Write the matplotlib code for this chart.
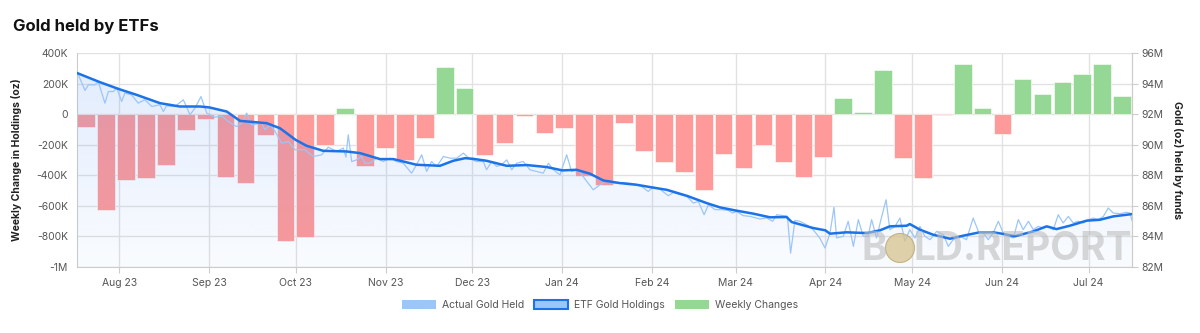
import numpy as np
import pandas as pd
import matplotlib
matplotlib.use('Agg')
import matplotlib.pyplot as plt
import matplotlib.dates as mdates
from matplotlib.patches import Patch, Ellipse
from matplotlib.ticker import FuncFormatter, MultipleLocator

plt.rcParams['font.family'] = ['Inter', 'DejaVu Sans']

# day 0 of the time axis
START = pd.Timestamp('2023-07-17')

# weekly change in holdings, thousands of oz (one bar per week)
weekly_change_k = [
    -85, -625, -434, -418, -333, -107, -33, -412, -449, -137,
    -830, -802, -200, 37, -338, -222, -303, -157, 307, 172,
    -266, -190, -15, -124, -92, -407, -462, -59, -244, -312,
    -377, -495, -259, -353, -200, -314, -412, -281, 107, 17,
    288, -288, -420, -5, 329, 39, -128, 233, 133, 209,
    264, 329, 120,
]
first_week = '2023-07-20 12:00'
last_week = '2024-07-12 14:00'

# ETF gold holdings (smoothed), (day, million oz)
etf_holdings = [
    (0.5, 94.68), (8.3, 94.09), (15.0, 93.63), (21.0, 93.26), (29.0, 92.72),
    (35.9, 92.50), (42.9, 92.50), (46.1, 92.44), (52.1, 92.17), (56.7, 91.56),
    (65.9, 91.41), (70.5, 91.08), (75.9, 90.32), (79.7, 89.93), (85.5, 89.60),
    (93.5, 89.56), (98.2, 89.45), (105.1, 89.06), (109.7, 89.06), (117.7, 88.69),
    (125.8, 88.62), (130.4, 88.95), (134.5, 89.12), (137.1, 89.08), (141.9, 88.95),
    (148.9, 88.62), (155.8, 88.67), (162.7, 88.54), (168.1, 88.32), (173.0, 88.36),
    (177.7, 88.10), (182.3, 87.66), (188.0, 87.49), (193.8, 87.38), (199.0, 87.21),
    (204.2, 87.05), (211.1, 86.66), (218.0, 86.18), (222.6, 85.90), (227.9, 85.70),
    (234.1, 85.49), (239.9, 85.25), (245.6, 85.27), (247.4, 84.94), (254.8, 84.55),
    (259.0, 84.40), (260.6, 84.18), (266.3, 84.27), (273.3, 84.22), (277.9, 84.40),
    (281.3, 84.66), (287.1, 84.70), (288.2, 84.81), (291.7, 84.44), (296.3, 84.11),
    (302.1, 83.85), (306.7, 84.05), (312.4, 84.27), (317.0, 84.27), (320.0, 84.18),
    (324.5, 84.01), (330.9, 84.33), (335.5, 84.66), (338.9, 84.48), (343.5, 84.70),
    (349.3, 85.03), (353.9, 85.09), (358.5, 85.31), (364.9, 85.46),
]

# actual gold held (daily, noisy), (day, million oz)
actual_held = [
    (0.6, 94.68), (3.1, 93.55), (4.3, 93.92), (6.6, 93.92), (7.7, 94.13),
    (10.0, 92.72), (11.2, 93.48), (12.9, 93.48), (14.1, 93.70), (15.8, 92.83),
    (16.9, 93.37), (19.2, 93.26), (21.5, 92.72), (23.8, 92.94), (26.2, 92.50),
    (29.0, 92.61), (30.2, 92.17), (31.3, 92.54), (34.2, 92.50), (37.1, 92.94),
    (39.4, 91.96), (41.1, 92.39), (43.2, 93.15), (45.2, 92.07), (48.0, 91.80),
    (50.3, 91.89), (52.6, 91.52), (55.5, 91.19), (57.3, 91.41), (59.0, 92.07),
    (60.7, 91.30), (64.2, 91.41), (65.3, 90.98), (67.1, 91.30), (68.8, 90.87),
    (71.1, 90.10), (73.4, 90.21), (75.7, 89.67), (79.1, 89.67), (82.0, 89.23),
    (84.9, 89.34), (87.2, 89.84), (90.1, 89.56), (92.4, 89.78), (93.3, 89.19),
    (94.1, 90.65), (95.3, 88.90), (97.0, 89.01), (98.7, 89.23), (99.9, 88.79),
    (101.6, 88.79), (103.9, 89.12), (106.2, 88.90), (108.5, 89.12), (110.8, 88.90),
    (113.1, 88.79), (116.0, 88.14), (118.0, 88.79), (119.5, 89.34), (121.2, 88.25),
    (122.9, 88.90), (124.7, 88.58), (127.0, 89.23), (129.3, 89.12), (131.6, 89.12),
    (133.9, 89.45), (136.2, 89.06), (138.5, 88.90), (140.8, 88.90), (141.9, 88.36),
    (143.7, 88.90), (145.4, 88.58), (147.1, 88.69), (148.9, 89.01), (150.6, 88.36),
    (152.3, 88.79), (154.6, 88.90), (156.9, 88.36), (159.2, 88.25), (161.5, 88.14),
    (163.3, 88.79), (165.0, 88.36), (167.3, 88.03), (169.6, 89.34), (171.3, 88.25),
    (173.6, 88.36), (175.9, 87.76), (178.8, 87.05), (181.1, 87.38), (183.4, 87.66),
    (185.7, 87.49), (189.2, 87.53), (192.6, 87.45), (195.5, 87.27), (197.8, 86.94),
    (199.5, 87.23), (201.8, 87.10), (204.7, 86.66), (206.5, 86.88), (208.8, 86.73),
    (211.1, 86.62), (213.4, 86.18), (215.1, 86.29), (217.1, 85.42), (218.6, 86.07),
    (220.9, 85.75), (223.2, 85.75), (225.5, 85.70), (227.0, 85.53), (228.3, 85.64),
    (230.6, 85.36), (233.0, 85.31), (236.4, 85.14), (238.7, 85.21), (240.8, 84.99),
    (242.2, 85.42), (244.5, 85.36), (245.9, 85.31), (247.0, 82.91), (248.5, 85.05),
    (250.2, 84.99), (252.5, 84.77), (254.8, 84.44), (257.1, 83.89), (258.9, 83.24),
    (260.6, 84.20), (262.0, 85.90), (262.9, 83.90), (265.2, 84.01), (266.9, 84.99),
    (268.7, 83.35), (270.4, 85.10), (272.1, 84.01), (273.8, 84.01), (275.0, 85.10),
    (276.7, 83.90), (278.5, 85.31), (280.0, 86.40), (281.3, 84.44), (283.1, 84.66),
    (284.8, 85.20), (286.5, 83.68), (288.2, 84.44), (290.0, 83.90), (291.7, 84.66),
    (293.4, 84.01), (295.2, 83.79), (297.5, 84.33), (299.8, 84.11), (301.5, 83.35),
    (303.2, 83.79), (305.5, 84.01), (307.8, 83.79), (310.1, 85.20), (311.9, 84.33),
    (313.6, 84.22), (315.3, 83.79), (317.0, 84.22), (318.8, 84.99), (320.5, 84.22),
    (322.2, 84.01), (324.0, 83.90), (325.7, 85.10), (327.4, 84.44), (329.2, 84.99),
    (330.9, 84.44), (332.6, 84.66), (334.3, 84.55), (336.1, 84.66), (337.8, 84.44),
    (339.5, 85.42), (341.2, 84.88), (343.0, 85.31), (344.7, 84.88), (346.4, 84.99),
    (348.2, 84.88), (349.9, 85.10), (351.6, 85.20), (353.3, 85.10), (355.1, 85.31),
    (356.8, 85.86), (358.5, 85.53), (360.8, 85.49), (363.1, 85.58), (364.3, 85.53),
    (365.0, 85.04),
]

RED = '#fe9a9a'
GREEN = '#95d795'
BLUE = '#1a73e8'
LIGHT_BLUE = '#9cc6f7'


def to_dates(days):
    return START + pd.to_timedelta(np.asarray(days, dtype=float), unit='D')


def fmt_left(v, _):
    if v == 0:
        return '0'
    if abs(v) >= 1e6:
        return f'{v / 1e6:.0f}M'
    return f'{v / 1e3:.0f}K'


week_dates = pd.date_range(first_week, last_week, periods=len(weekly_change_k))
changes = np.array(weekly_change_k) * 1000.0
bar_colors = [GREEN if c >= 0 else RED for c in changes]

etf_days, etf_vals = zip(*etf_holdings)
act_days, act_vals = zip(*actual_held)
etf_dates = to_dates(etf_days)
act_dates = to_dates(act_days)

fig = plt.figure(figsize=(12, 3.33), dpi=100)
ax = fig.add_axes([77 / 1200, 1 - 267 / 333, 1055 / 1200, 214 / 333])
ax2 = ax.twinx()

# weekly bars on the left axis
ax.bar(week_dates, changes, width=6.1, color=bar_colors, edgecolor='white', linewidth=0.4, zorder=2)

xmin, xmax = START + pd.Timedelta(days=0.35), START + pd.Timedelta(days=365)
ax.set_xlim(xmin, xmax)
ax.set_ylim(-1e6, 4e5)
ax.yaxis.set_major_locator(MultipleLocator(2e5))
ax.yaxis.set_major_formatter(FuncFormatter(fmt_left))
ax.xaxis.set_major_locator(mdates.MonthLocator())
ax.xaxis.set_major_formatter(mdates.DateFormatter('%b %y'))
ax.grid(True, color='#e2e2e2', linewidth=1)
ax.set_axisbelow(True)

# gradient fill under holdings line
ax2.set_ylim(82, 96)
poly = ax2.fill_between(etf_dates, etf_vals, 82, facecolor='none', edgecolor='none')
grad = np.zeros((256, 1, 4))
grad[..., 0], grad[..., 1], grad[..., 2] = 59 / 255, 130 / 255, 246 / 255
grad[..., 3] = np.linspace(0.15, 0.03, 256)[:, None]
im = ax2.imshow(grad, extent=[mdates.date2num(xmin), mdates.date2num(xmax), 82, 95],
                aspect='auto', origin='upper', zorder=1)
im.set_clip_path(poly.get_paths()[0], transform=ax2.transData)

ax2.plot(act_dates, act_vals, color=LIGHT_BLUE, linewidth=0.9, zorder=3)
ax2.plot(etf_dates, etf_vals, color=BLUE, linewidth=1.8, zorder=4)
ax2.set_xlim(xmin, xmax)
ax2.set_ylim(82, 96)
ax2.yaxis.set_major_locator(MultipleLocator(2))
ax2.yaxis.set_major_formatter(FuncFormatter(lambda v, _: f'{v:.0f}M'))

# ticks and spines
ax.tick_params(axis='y', length=0, pad=6.5, labelsize=7.5, labelcolor='#555555')
ax.tick_params(axis='x', length=4, pad=4, color='#cccccc', labelsize=7.5, labelcolor='#555555')
ax2.tick_params(axis='y', length=4, pad=3, color='#cccccc', labelsize=7.5, labelcolor='#555555')
for a in (ax, ax2):
    a.spines['top'].set_visible(False)
    for s in ('left', 'bottom', 'right'):
        a.spines[s].set_color('#cccccc')
ax2.spines['left'].set_visible(False)
ax2.spines['bottom'].set_visible(False)

ax.set_ylabel('Weekly Change in Holdings (oz)', fontsize=7.5, fontweight='bold', color='#222222')
ax.yaxis.set_label_coords(-0.052, 0.5)
ax2.set_ylabel('Gold (oz) held by funds', fontsize=7.5, fontweight='bold', color='#222222',
               rotation=270, va='center')
ax2.yaxis.set_label_coords(1.043, 0.5)

fig.text(13 / 1200, 1 - 26 / 333, 'Gold held by ETFs', fontsize=12, fontweight='bold',
         va='center', ha='left', color='#111111')

# legend
handles = [
    Patch(facecolor=LIGHT_BLUE, edgecolor='none'),
    Patch(facecolor=LIGHT_BLUE, edgecolor=BLUE, linewidth=1.5),
    Patch(facecolor=GREEN, edgecolor='none'),
]
labels = ['Actual Gold Held', 'ETF Gold Holdings', 'Weekly Changes']
leg = fig.legend(handles, labels, loc='center', bbox_to_anchor=(0.5, 1 - 305 / 333), ncol=3,
                 frameon=False, fontsize=7.5, handlelength=3.3, handleheight=1.05,
                 handletextpad=0.6, columnspacing=0.9)
for t in leg.get_texts():
    t.set_color('#555555')

# watermark
wm_y = 1 - 249 / 333
fig.text(862 / 1200, wm_y, 'B', fontsize=28, fontweight='bold', color='#bdbdbd', alpha=0.6,
         va='center', ha='left', zorder=10)
fig.add_artist(Ellipse((900 / 1200, 1 - 248 / 333), width=29 / 1200, height=29 / 333,
                       transform=fig.transFigure, facecolor='#d6c48e', edgecolor='#b7a26c',
                       linewidth=0.8, alpha=0.75, zorder=10))
fig.text(914 / 1200, wm_y, 'LD.REPORT', fontsize=28, fontweight='bold', color='#bdbdbd',
         alpha=0.6, va='center', ha='left', zorder=10)

fig.savefig('out.png', dpi=100)
